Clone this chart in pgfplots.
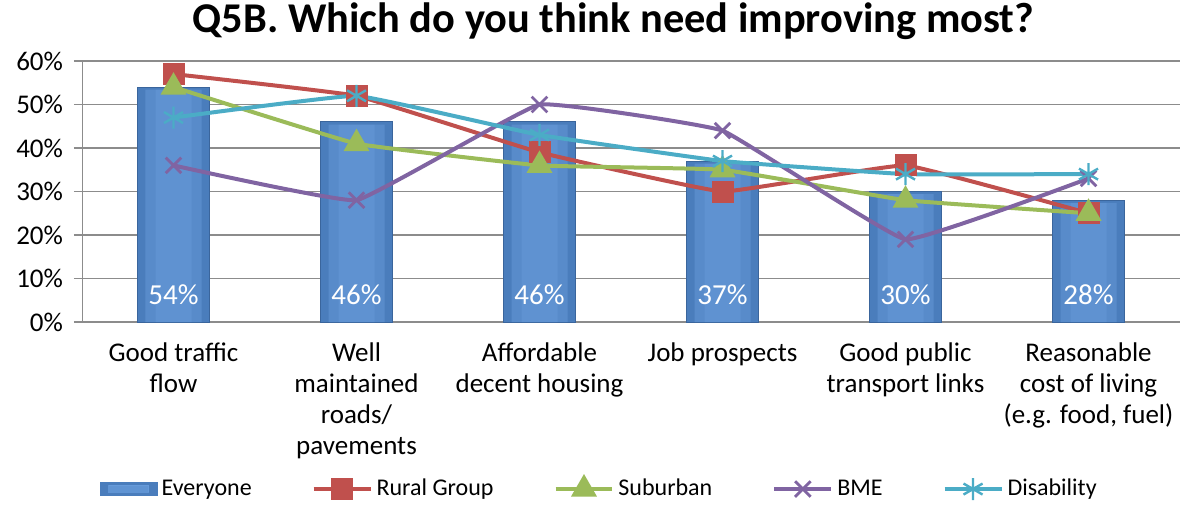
\documentclass[border=0pt]{standalone}
\usepackage{pgfplots}
\pgfplotsset{compat=1.18}
\usepackage{pgfplotstable}
\usepackage{fontspec}
\setmainfont{Carlito}

\definecolor{barblue}{HTML}{4A7DBC}
\definecolor{barlight}{HTML}{6A9EDD}
\definecolor{bardark}{HTML}{3A659C}
\definecolor{rural}{HTML}{C0504D}
\definecolor{suburb}{HTML}{9BBB59}
\definecolor{bme}{HTML}{8064A2}
\definecolor{disab}{HTML}{4BACC6}
\definecolor{gridgray}{HTML}{8C8C8C}

% values (percent)
\pgfplotstableread{
x every rural suburban bme disability
0 54 57 54 36 47
1 46 52 41 28 52
2 46 39 36 50 43
3 37 30 35 44 37
4 30 36 28 19 34
5 28 25 25 33 34
}\datatab

\begin{document}
\begin{tikzpicture}
\begin{axis}[
    scale only axis,
    width=549pt, height=130.5pt,
    xmin=-0.5, xmax=5.5,
    ymin=0, ymax=60,
    axis x line*=bottom, axis y line*=left,
    axis line style={gridgray},
    ytick={0,10,...,60},
    yticklabel={\pgfmathprintnumber{\tick}\%},
    /pgf/number format/assume math mode=true,
    yticklabel style={font=\fontsize{13.5}{15}\selectfont, xshift=-2pt},
    ymajorgrids, grid style={gridgray, line width=0.6pt},
    tick style={gridgray, line width=0.6pt},
    major tick length=4pt,
    tick align=outside,
    xtick={0,...,5},
    xticklabels={
        Good traffic\\flow,
        Well\\maintained\\roads/\\pavements,
        Affordable\\decent housing,
        Job prospects,
        Good public\\transport links,
        {Reasonable\\cost of living\\(e.g. food, fuel)}},
    x tick style={draw=none},
    xticklabel style={font=\fontsize{13.5}{15.5}\selectfont, align=center, yshift=-3pt},
    extra x ticks={-0.5,0.5,...,5.5},
    extra x tick labels={},
    extra x tick style={major tick length=5pt, tick style={gridgray, line width=0.6pt}, grid=none},
    title={\fontsize{21.2}{25}\selectfont\bfseries Q5B. Which do you think need improving most?},
    title style={at={(0.484,1)}, anchor=south, yshift=1pt},
    legend columns=5,
    legend style={draw=none, at={(0.472,-0.64)}, anchor=center,
        font=\fontsize{12}{14}\selectfont,
        /tikz/every even column/.append style={column sep=28pt}},
    legend image code/.code={\draw[mark repeat=2,mark phase=2,#1] plot coordinates {(0cm,0cm) (0.5cm,0cm) (1cm,0cm)};},
    clip=false,
]
\coordinate (bl) at (rel axis cs:0,0);
\coordinate (tr) at (rel axis cs:1,1);

\addplot[ybar, bar width=36pt, bar shift=0pt, fill=barblue, draw=bardark, line width=0.5pt,
    legend image code/.code={\fill[barblue] (0cm,-0.11cm) rectangle (1cm,0.11cm);
        \fill[barlight, opacity=0.7] (0.15cm,-0.06cm) rectangle (0.85cm,0.07cm);}]
    table[x=x, y=every] {\datatab};
\addlegendentry{Everyone}
% lighter centre of the bars
\addplot[ybar, bar width=28pt, bar shift=0pt, fill=barlight, fill opacity=0.45, draw=none, forget plot]
    table[x=x, y expr=\thisrow{every}-0.6] {\datatab};
\addplot[ybar, bar width=18pt, bar shift=0pt, fill=barlight, fill opacity=0.4, draw=none, forget plot]
    table[x=x, y expr=\thisrow{every}-0.6] {\datatab};

\addplot[rural, line width=2pt, smooth, tension=0.15, mark=square*, mark size=4.5pt,
    mark options={solid}] table[x=x, y=rural] {\datatab};
\addlegendentry{Rural Group}

\addplot[suburb, line width=2pt, smooth, tension=0.15, mark=triangle*, mark size=5.5pt]
    table[x=x, y=suburban] {\datatab};
\addlegendentry{Suburban}

\addplot[bme, line width=2pt, smooth, tension=0.15, mark=x, mark size=5.5pt,
    mark options={line width=1.4pt}] table[x=x, y=bme] {\datatab};
\addlegendentry{BME}

\addplot[disab, line width=2pt, smooth, tension=0.15, mark=asterisk, mark size=5.5pt,
    mark options={line width=1.2pt}] table[x=x, y=disability] {\datatab};
\addlegendentry{Disability}

% percentage labels inside the bars
\addplot[draw=none, mark=none, forget plot, point meta=explicit,
    nodes near coords={\pgfmathprintnumber{\pgfplotspointmeta}\%},
    every node near coord/.append style={anchor=center, text=white,
        font=\fontsize{14.5}{17}\selectfont}]
    table[x=x, y expr=6.2, meta=every] {\datatab};
\end{axis}
\pgfresetboundingbox
\path[use as bounding box] ([shift={(-41pt,-91pt)}]bl) rectangle ([shift={(0pt,30.5pt)}]tr);
\end{tikzpicture}
\end{document}
